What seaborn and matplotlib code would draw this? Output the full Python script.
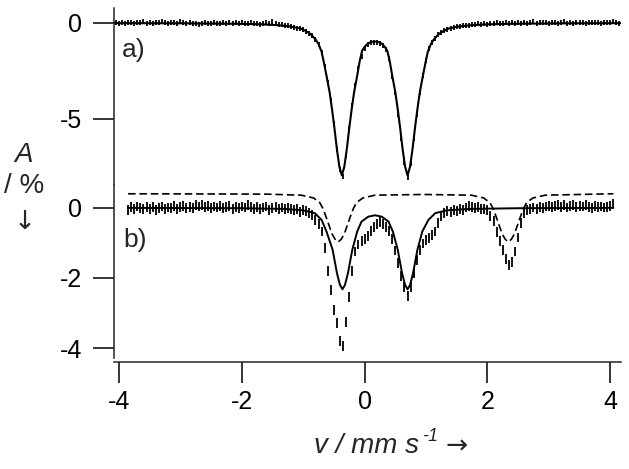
import numpy as np
import pandas as pd
import matplotlib
matplotlib.use('Agg')
import matplotlib.pyplot as plt
import seaborn as sns

# ---- spectrum a) : channels from -4.05 to 4.15 mm/s, step 0.05
a_vel_start, a_vel_stop = -4.05, 4.15
a_abs = [
    0.02, -0.03, 0.01, -0.02, 0.04, 0.00, -0.04, 0.03, 0.01, 0.05,
    -0.02, 0.02, -0.01, 0.04, 0.00, 0.06, 0.02, -0.03, 0.01, 0.03,
    -0.02, 0.05, 0.02, -0.01, 0.03, -0.04, -0.01, -0.06, -0.02, 0.01,
    -0.04, -0.02, 0.00, -0.03, -0.05, 0.01, -0.02, 0.02, -0.01, 0.03,
    -0.02, 0.01, -0.03, -0.01, 0.00, -0.05, -0.02, -0.06, -0.03, 0.02,
    -0.04, 0.05, -0.05, -0.10, -0.08, -0.15, -0.14, -0.19, -0.22, -0.27,
    -0.30, -0.35, -0.44, -0.54, -0.68, -0.87, -1.12, -1.52, -2.25, -3.10,
    -4.05, -5.25, -6.60, -7.65, -8.00, -6.90, -5.50, -4.30, -3.25, -2.40,
    -1.75, -1.32, -1.12, -1.04, -1.00, -1.02, -1.06, -1.16, -1.36, -1.86,
    -2.78, -3.62, -4.75, -6.05, -7.30, -8.05, -7.35, -6.05, -4.80, -3.62,
    -2.75, -1.97, -1.35, -1.02, -0.80, -0.62, -0.50, -0.42, -0.33, -0.28,
    -0.24, -0.20, -0.17, -0.15, -0.12, -0.12, -0.08, -0.09, -0.05, -0.07,
    -0.03, -0.06, -0.02, -0.04, 0.00, -0.05, -0.01, 0.03, -0.03, 0.00,
    -0.04, 0.02, -0.01, 0.03, -0.02, 0.01, 0.05, -0.03, 0.02, 0.00,
    0.04, -0.02, 0.01, 0.03, -0.01, 0.02, 0.07, -0.02, 0.01, -0.03,
    0.02, 0.00, 0.03, -0.01, 0.02, 0.04, 0.00, 0.03, -0.02, 0.01,
    0.04, 0.00, 0.05, 0.02, -0.01,
]
a_err = 0.13

# fit curve a)
a_fit_vel = [-4.1, -3.0, -2.2, -1.7, -1.4, -1.2, -1.05, -0.95, -0.88, -0.80,
             -0.75, -0.70, -0.66, -0.62, -0.57, -0.53, -0.49, -0.45, -0.41, -0.37,
             -0.33, -0.29, -0.25, -0.21, -0.17, -0.12, -0.08, -0.04, 0.00, 0.05,
             0.10, 0.165, 0.23, 0.28, 0.33, 0.37, 0.41, 0.45, 0.50, 0.54,
             0.58, 0.62, 0.66, 0.70, 0.74, 0.78, 0.82, 0.86, 0.90, 0.95,
             0.99, 1.03, 1.08, 1.13, 1.21, 1.28, 1.38, 1.53, 1.73, 2.03,
             2.53, 3.33, 4.2]
a_fit = [-0.01, -0.02, -0.04, -0.07, -0.12, -0.19, -0.28, -0.43, -0.58, -0.85,
         -1.10, -1.50, -2.10, -2.75, -3.60, -4.50, -5.50, -6.60, -7.50, -7.95,
         -7.50, -6.60, -5.50, -4.50, -3.60, -2.75, -2.00, -1.45, -1.25, -1.08,
         -1.00, -0.97, -1.00, -1.08, -1.25, -1.45, -2.00, -2.75, -3.60, -4.50,
         -5.50, -6.60, -7.50, -7.95, -7.50, -6.60, -5.50, -4.50, -3.60, -2.75,
         -2.10, -1.50, -1.10, -0.85, -0.58, -0.43, -0.28, -0.19, -0.12, -0.07,
         -0.04, -0.02, -0.01]

# ---- spectrum b) : channels from -3.85 to 4.05 mm/s, step 0.05
b_vel_start, b_vel_stop = -3.85, 4.05
b_abs = [
    -0.08, 0.02, -0.04, 0.03, -0.02, -0.05, 0.01, -0.03, 0.02, -0.06,
    -0.01, 0.03, -0.04, 0.00, -0.02, 0.04, -0.03, 0.01, 0.05, -0.02,
    0.02, -0.01, 0.06, 0.03, 0.08, 0.01, 0.04, -0.02, 0.03, 0.00,
    0.05, -0.01, 0.02, 0.04, -0.03, 0.01, -0.02, 0.03, 0.00, 0.06,
    0.02, -0.03, 0.01, -0.04, 0.00, 0.03, -0.06, -0.02, 0.01, -0.03,
    0.00, -0.05, -0.02, -0.04, -0.08, -0.03, -0.12, -0.06, -0.10, -0.16,
    -0.22, -0.35, -0.47, -0.68, -1.15, -1.80, -2.35, -2.90, -3.28, -3.78,
    -3.92, -3.25, -2.53, -1.80, -1.25, -1.05, -0.95, -0.90, -0.80, -0.67,
    -0.56, -0.47, -0.42, -0.48, -0.55, -0.66, -0.90, -1.22, -1.58, -1.95,
    -2.25, -2.50, -2.25, -1.85, -1.50, -1.20, -1.02, -0.93, -0.86, -0.78,
    -0.68, -0.45, -0.25, -0.15, -0.10, -0.12, -0.06, -0.09, -0.03, -0.07,
    0.00, 0.04, 0.02, -0.02, 0.01, -0.03, -0.05, -0.08, -0.24, -0.38,
    -0.70, -0.96, -1.20, -1.45, -1.62, -1.55, -1.25, -0.85, -0.45, -0.15,
    -0.06, -0.03, 0.00, -0.04, 0.02, -0.01, 0.03, 0.05, 0.01, 0.04,
    0.08, 0.02, 0.06, 0.00, 0.04, 0.07, 0.01, 0.05, 0.03, 0.06,
    0.02, -0.01, 0.04, 0.01, 0.03, 0.00, 0.02, 0.05, 0.09,
]
b_err = 0.14

# fit curve b) (solid)
b_fit_vel = [-3.85, -2.0, -1.3, -1.0, -0.81, -0.70, -0.62, -0.52, -0.45, -0.40,
             -0.36, -0.32, -0.27, -0.20, -0.12, -0.05, 0.06, 0.17, 0.28, 0.39,
             0.46, 0.54, 0.61, 0.66, 0.70, 0.74, 0.79, 0.86, 0.94, 1.04,
             1.15, 1.34, 1.7, 2.5, 4.05]
b_fit = [-0.01, -0.02, -0.04, -0.08, -0.16, -0.35, -0.68, -1.20, -1.86, -2.20,
         -2.32, -2.20, -1.86, -1.20, -0.68, -0.40, -0.26, -0.22, -0.26, -0.40,
         -0.68, -1.20, -1.86, -2.20, -2.32, -2.20, -1.86, -1.20, -0.68, -0.35,
         -0.16, -0.08, -0.04, -0.02, -0.01]

# second component b) (dashed, shifted up)
b_comp_vel = [-3.85, -1.6, -1.03, -0.83, -0.73, -0.68, -0.63, -0.58, -0.53, -0.48,
              -0.43, -0.38, -0.33, -0.28, -0.23, -0.18, -0.13, -0.03, 0.17, 0.95,
              1.74, 1.94, 2.04, 2.09, 2.14, 2.19, 2.24, 2.29, 2.34, 2.39,
              2.44, 2.49, 2.54, 2.59, 2.64, 2.74, 2.94, 4.05]
b_comp = [0.39, 0.38, 0.35, 0.27, 0.14, -0.02, -0.25, -0.50, -0.75, -0.90,
          -0.98, -0.90, -0.75, -0.50, -0.25, -0.02, 0.14, 0.27, 0.35, 0.37,
          0.35, 0.27, 0.14, -0.02, -0.25, -0.50, -0.75, -0.90, -0.98, -0.90,
          -0.75, -0.50, -0.25, -0.02, 0.14, 0.27, 0.35, 0.39]

data_a = pd.DataFrame({'v': np.linspace(a_vel_start, a_vel_stop, len(a_abs)), 'A': a_abs})
data_b = pd.DataFrame({'v': np.linspace(b_vel_start, b_vel_stop, len(b_abs)), 'A': b_abs})

sns.set_style('ticks')
plt.rcParams['font.family'] = ['Liberation Sans', 'DejaVu Sans']
plt.rcParams['axes.unicode_minus'] = False

fig = plt.figure(figsize=(6.29, 4.69), dpi=100)
ax_a = fig.add_axes([0.1812, 0.606, 0.8056, 0.377])
ax_b = fig.add_axes([0.1812, 0.2367, 0.8056, 0.3693])

# panel a
ax_a.vlines(data_a['v'], data_a['A'] - a_err, data_a['A'] + a_err, colors='black', lw=1.3)
sns.lineplot(x=a_fit_vel, y=a_fit, ax=ax_a, color='black', lw=1.5)

# panel b
ax_b.vlines(data_b['v'], data_b['A'] - b_err, data_b['A'] + b_err, colors='black', lw=1.3)
sns.lineplot(x=b_fit_vel, y=b_fit, ax=ax_b, color='black', lw=1.4)
sns.lineplot(x=b_comp_vel, y=b_comp, ax=ax_b, color='black', lw=1.2,
             linestyle=(0, (4.5, 2.3)))

for ax in (ax_a, ax_b):
    ax.set_xlim(-4.08, 4.17)
    ax.set_xlabel('')
    ax.set_ylabel('')
    ax.spines['top'].set_visible(False)
    ax.spines['right'].set_visible(False)
    for s in ax.spines.values():
        s.set_linewidth(1.1)
    ax.tick_params(direction='out', length=15, width=1.1, labelsize=18, pad=8, colors='black')

ax_a.set_ylim(-8.44, 0.78)
ax_a.set_yticks([0, -5])
ax_a.spines['bottom'].set_visible(False)
ax_a.tick_params(axis='x', bottom=False, labelbottom=False)

ax_b.set_ylim(-4.27, 0.645)
ax_b.set_yticks([0, -2, -4])
ax_b.set_xticks([-4, -2, 0, 2, 4])
ax_b.spines['bottom'].set_position(('outward', 3))
ax_b.tick_params(axis='x', pad=5)

ax_a.text(0.016, 0.763, 'a)', transform=ax_a.transAxes, fontsize=19, ha='left', va='center')
ax_b.text(0.018, 0.682, 'b)', transform=ax_b.transAxes, fontsize=19, ha='left', va='center')

# axis titles
fig.text(24 / 629, 1 - 155 / 469, 'A', style='italic', fontsize=20, ha='center', va='center')
fig.text(24 / 629, 1 - 186 / 469, '/ %', fontsize=20, ha='center', va='center')
fig.text(25 / 629, 1 - 222 / 469, '\u2193', fontsize=19, ha='center', va='center',
         family='DejaVu Sans')
fig.text(314 / 629, 1 - 453 / 469, 'v / mm s', style='italic', fontsize=20,
         ha='left', va='baseline')
fig.text(422 / 629, 1 - 441 / 469, '-1', style='italic', fontsize=13,
         ha='left', va='baseline')
fig.text(457 / 629, 1 - 447 / 469, '\u2192', fontsize=19, ha='center', va='center',
         family='DejaVu Sans')

fig.savefig('out.png', dpi=100)
